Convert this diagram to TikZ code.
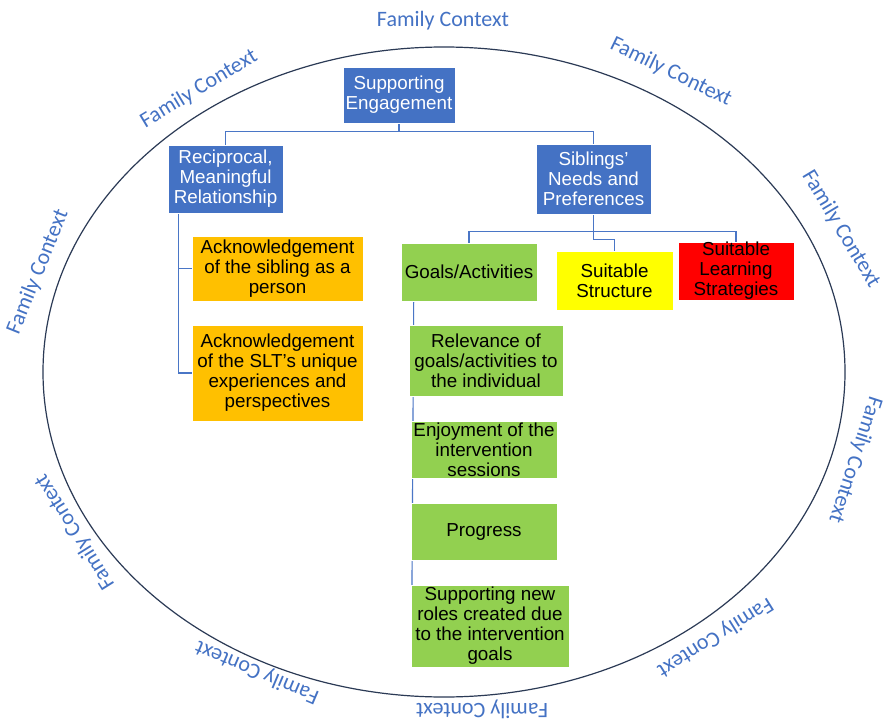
\documentclass[tikz,border=0pt]{standalone}
\usepackage{fontspec}
\setmainfont{Liberation Sans}
\newfontfamily\ctxfont{Carlito}
\usetikzlibrary{backgrounds}

\definecolor{boxblue}{HTML}{4472C4}
\definecolor{boxorange}{HTML}{FFC000}
\definecolor{boxgreen}{HTML}{92D050}
\definecolor{boxyellow}{HTML}{FFFF00}
\definecolor{boxred}{HTML}{FF0000}
\definecolor{linkblue}{HTML}{4A76C6}
\definecolor{ringcol}{HTML}{2B3A55}
\definecolor{ctxblue}{HTML}{4472C4}

\begin{document}
\begin{tikzpicture}[x=1pt,y=-1pt,
  box/.style={draw=white, line width=0.6pt, align=center, inner sep=0pt,
    font=\fontsize{18.8}{20}\selectfont},
  headbox/.style={box, fill=boxblue, text=white},
  orangebox/.style={box, fill=boxorange, text=black},
  greenbox/.style={box, fill=boxgreen, text=black},
  yellowbox/.style={box, fill=boxyellow, text=black},
  redbox/.style={box, fill=boxred, text=black},
  conn/.style={draw=linkblue, line width=1.1pt},
  ctx/.style={text=ctxblue, inner sep=0pt, font=\ctxfont\fontsize{22}{24}\selectfont}]

\useasboundingbox (0,0) rectangle (883,722);

% the family-context ring
\draw[ringcol, line width=1.2pt] (444,372) ellipse [x radius=401, y radius=325];

% labels set round the ring
\node[ctx] (c1) at (443,21) {Family Context};
\node[ctx, rotate=31] (c2) at (199,89) {Family Context};
\node[ctx, rotate=-26] (c3) at (671,72) {Family Context};
\node[ctx, rotate=-59] (c4) at (841,229) {Family Context};
\node[ctx, rotate=68] (c5) at (38,272) {Family Context};
\node[ctx, rotate=-108] (c6) at (855,460) {Family Context};
\node[ctx, rotate=-148] (c7) at (715,637) {Family Context};
\node[ctx, rotate=180] (c8) at (482,709) {Family Context};
\node[ctx, rotate=157] (c9) at (257,672) {Family Context};
\node[ctx, rotate=122] (c10) at (75,532) {Family Context};

% top levels
\node[headbox, minimum width=112pt, minimum height=56pt] (se) at (399,95) {Supporting\\Engagement};
\node[headbox, minimum width=115pt, minimum height=68pt] (rmr) at (225.5,179) {Reciprocal,\\Meaningful\\Relationship};
\node[headbox, minimum width=115pt, minimum height=70pt] (snp) at (593.5,179) {Siblings'\\Needs and\\Preferences};

% relationship branch
\node[orangebox, minimum width=171pt, minimum height=65pt] (ack1) at (277.5,268.5) {Acknowledgement\\of the sibling as a\\person};
\node[orangebox, minimum width=171pt, minimum height=96pt] (ack2) at (277.5,373) {Acknowledgement\\of the SLT's unique\\experiences and\\perspectives};

% needs and preferences branch
\node[greenbox, minimum width=136pt, minimum height=58pt] (goals) at (469,272) {Goals/Activities};
\node[yellowbox, minimum width=117pt, minimum height=59pt] (struct) at (614.5,280.5) {Suitable\\Structure};
\node[redbox, minimum width=116pt, minimum height=58pt] (sls) at (736,271) {Suitable\\Learning\\Strategies};

% goals and activities
\node[greenbox, minimum width=154pt, minimum height=71pt] (rel) at (486,360.5) {Relevance of\\goals/activities to\\the individual};
\node[greenbox, minimum width=146pt, minimum height=57pt] (enj) at (484,449.5) {Enjoyment of the\\intervention\\sessions};
\node[greenbox, minimum width=146pt, minimum height=57pt] (prog) at (484,531.5) {Progress};
\node[greenbox, minimum width=158pt, minimum height=82pt] (roles) at (490,626) {Supporting new\\roles created due\\to the intervention\\goals};

\begin{scope}[on background layer]
  \fill[white] (0,0) rectangle (883,722);
  \draw[conn] (se.south) -- ++(0,8) -| (rmr.north);
  \draw[conn] (se.south) -- ++(0,8) -| (snp.north);
  \draw[conn] ([xshift=11pt]rmr.south west) |- (ack1.west);
  \draw[conn] ([xshift=11pt]rmr.south west) |- (ack2.west);
  \draw[conn] (snp.south) -- ++(0,17) -| (goals.north);
  \draw[conn] (snp.south) -- ++(0,17) -| (sls.north);
  \draw[conn] (snp.south) -- ++(0,25) -| (struct.north);
  \draw[conn] ([xshift=13pt]goals.south west) -- ([xshift=1pt]roles.west);
\end{scope}
\end{tikzpicture}
\end{document}
